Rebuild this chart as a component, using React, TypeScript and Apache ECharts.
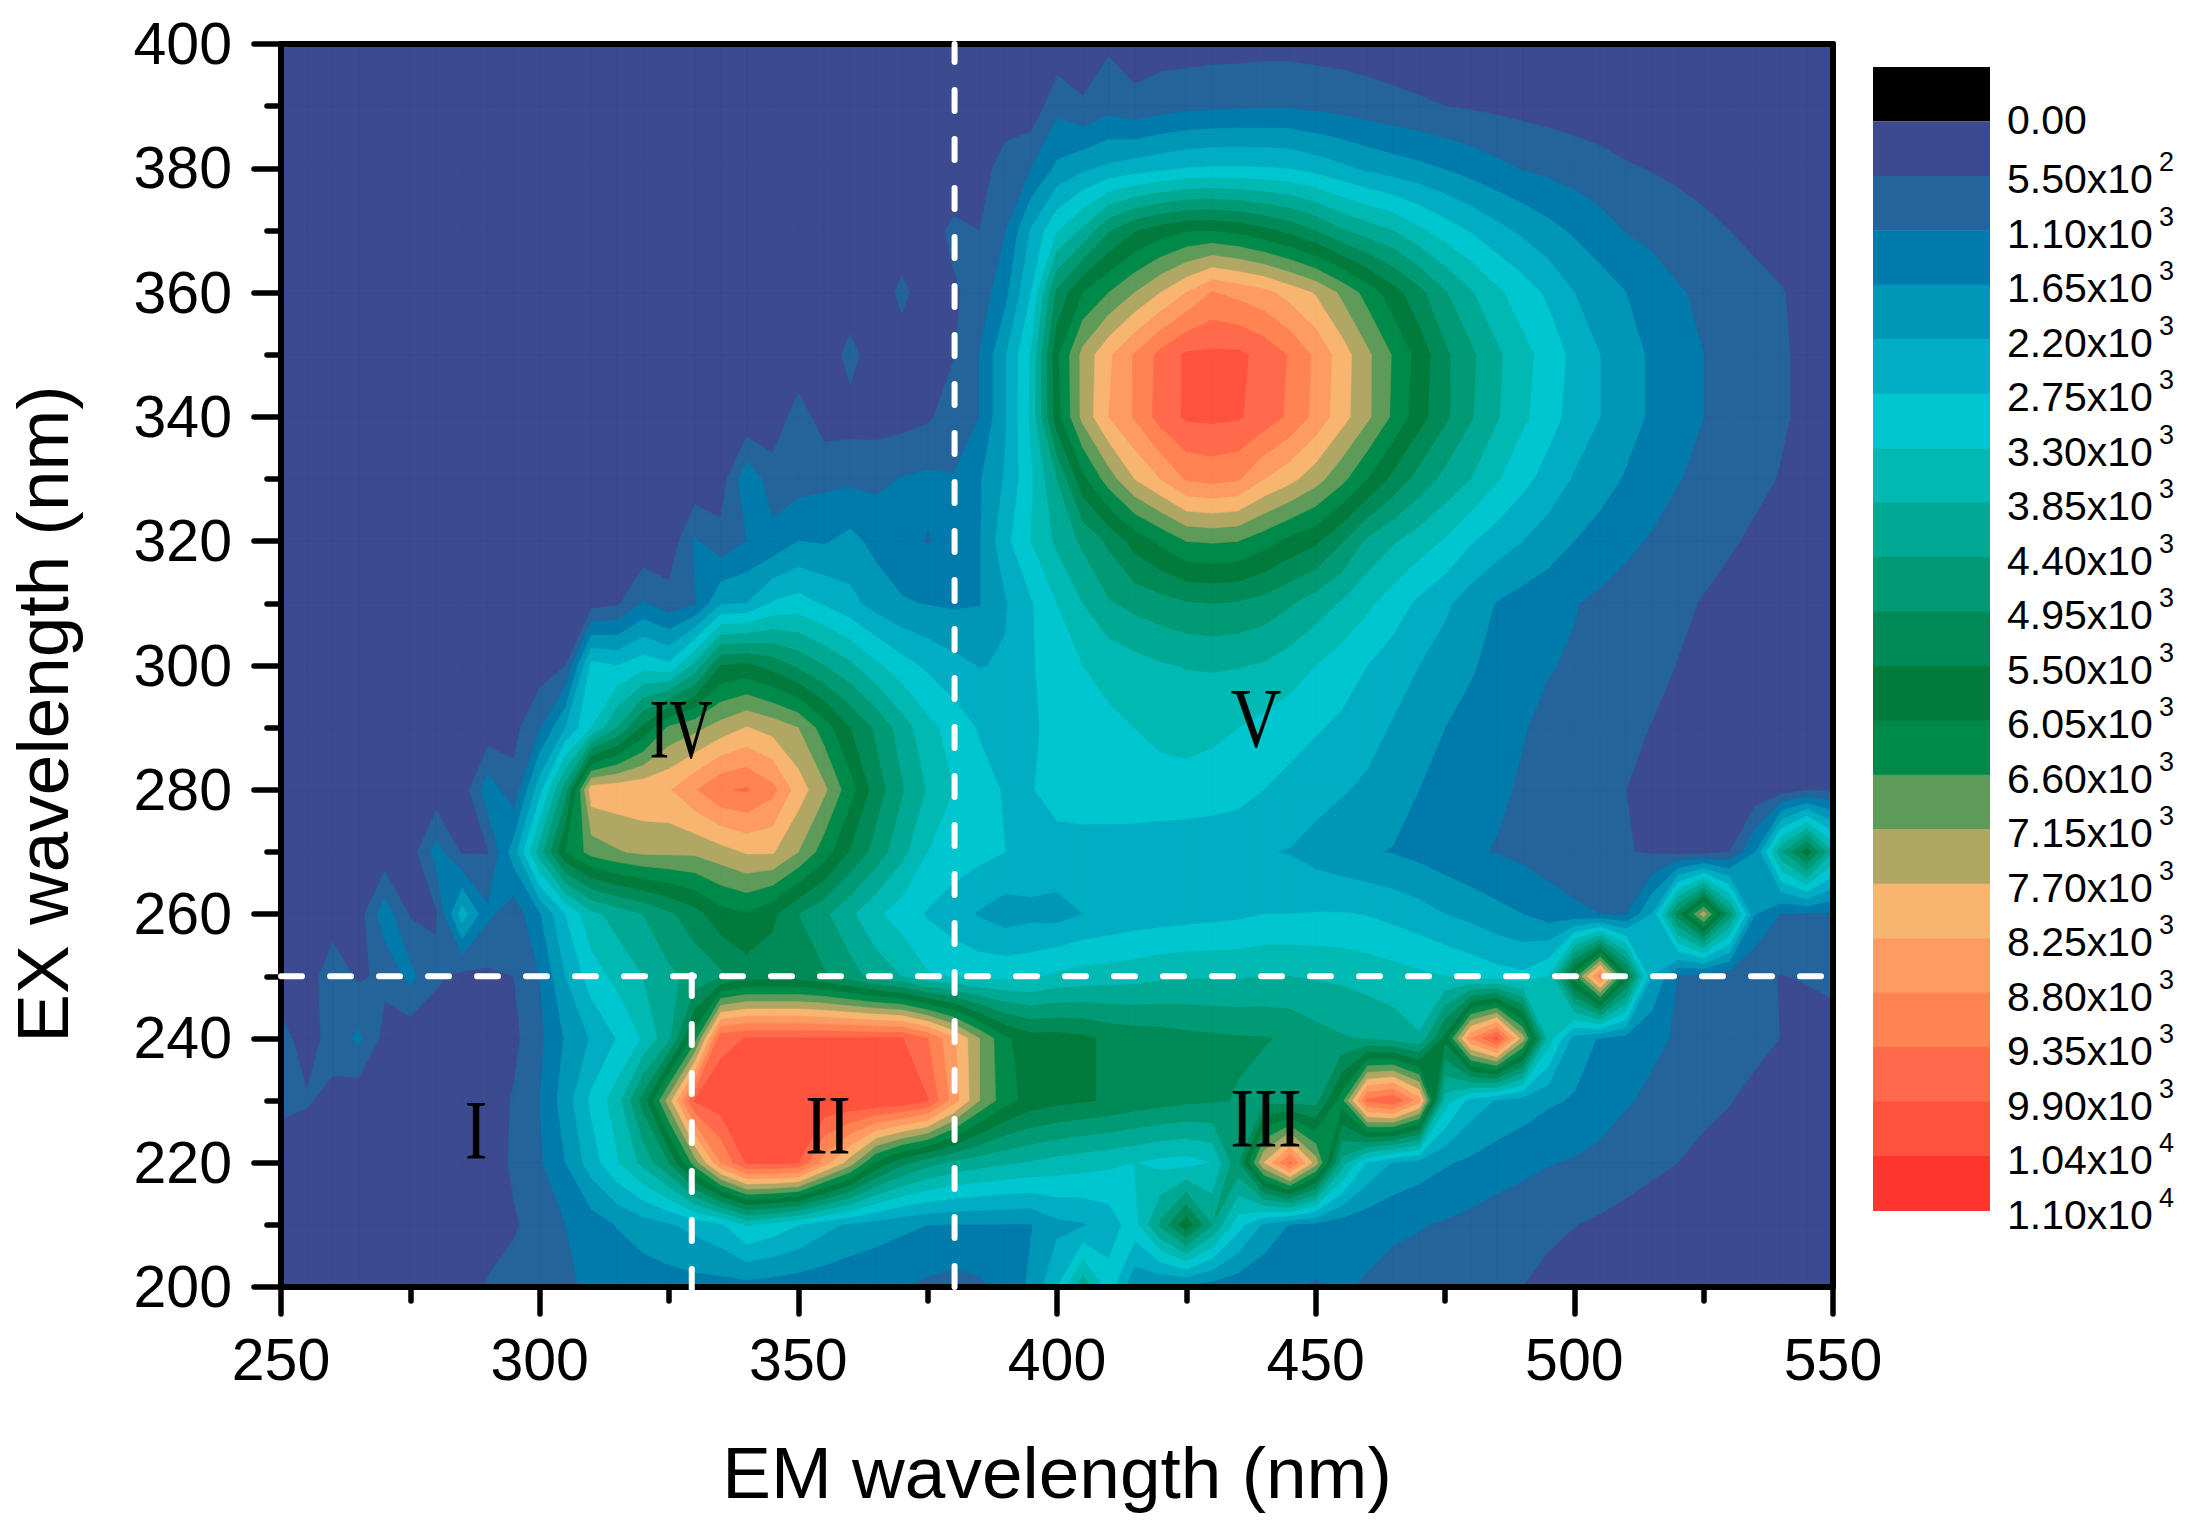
import React, { useEffect, useRef } from "react";
import * as echarts from "echarts";

const EM = [250,255,260,265,270,275,280,285,290,295,300,305,310,315,320,325,330,335,340,345,350,355,360,365,370,375,380,385,390,395,400,405,410,415,420,425,430,435,440,445,450,455,460,465,470,475,480,485,490,495,500,505,510,515,520,525,530,535,540,545,550];
const EX = [200,210,220,230,240,250,260,270,280,290,300,310,320,330,340,350,360,370,380,390,400];

// Intensity, in contour steps of 550 (one column per 5 nm of EM).
const ex200 = [.3,.3,.3,.3,.3,.3,.3,.4,1.1,1.35, 1.6,1.85,2.15,2.3,2.4,2.5,2.6,2.6,2.6,2.5, 2.4,2.3,2.2,2.1,2.05,1.8,1.6,1.8,2.3,3.2, 5.0,7.7,5.5,3.2,2.9,2.7,2.5,2.3,2.1,2.1, 1.9,2.1,1.9,1.7,1.6,1.5,1.4,1.2,1.0,.8, .6,.5,.4,.4,.3,.3,.3,.3,.3,.3,.3];
const ex210 = [.3,.3,.3,.3,.3,.3,.3,.4,.55,.9, 1.35,2.0,2.5,3.05,3.5,3.9,4.3,4.8,6.1,5.6, 5.0,4.3,3.8,3.5,3.2,3.0,2.95,2.95,2.95,2.95, 3.7,3.9,4.4,5.6,8.2,10.7,8.0,5.4,3.8,2.95, 2.7,2.4,2.3,2.15,2.05,1.9,1.7,1.5,1.3,1.15, 1.02,.85,.7,.5,.4,.3,.3,.3,.3,.3,.3];
const ex220 = [.3,.3,.3,.3,.3,.3,.3,.3,.5,1.15, 1.85,3.0,4.5,5.9,7.3,9.0,12.5,16,18.1,18.2, 18.0,15.5,13.5,10.8,9.3,8.4,7.8,7.4,7.1,6.9, 6.6,6.4,6.2,6.0,5.7,5.6,6.0,8.8,14.0,17.2, 13.5,7.6,4.9,3.9,3.5,3.1,2.8,2.5,2.3,2.05, 1.9,1.7,1.4,1.2,1.0,.7,.5,.4,.3,.3,.3];
const ex230 = [1.3,1.1,.7,.3,.3,.3,.3,.3,.4,1.1, 2.0,3.5,5.2,6.5,9.4,13.5,18.1,18.6,18.9,18.9, 18.9,18.9,18.9,18.9,18.7,18.05,15.5,13,11.4,10.6, 10.3,10.1,9.9,9.6,9.4,9.2,9.1,8.95,8.7,8.5, 8.6,11.5,17.2,17.9,15.5,6.5,4.6,3.9,3.5,3.15, 2.9,2.5,2.1,1.8,1.5,1.3,1.05,.7,.4,.3,.3];
const ex240 = [1.4,.5,1.45,2.2,.7,.3,.3,.3,.3,.75, 1.75,3.1,4.1,5.05,6.1,7.7,11.5,17.7,18.05,18.06, 18.05,18.05,18.05,18.05,18.05,17.0,15.2,13,11.2,10.4, 10.4,10.2,9.8,9.6,9.5,9.3,9.2,9.1,9.05,8.9, 8.4,8.1,7.9,7.6,7.1,10.3,16.0,18.3,13.5,6.5, 3.6,2.9,2.6,2.2,1.9,1.7,1.5,1.3,.98,.7,.5];
const ex250 = [.3,.5,1.6,.85,1.2,2.3,1.2,.7,.8,1.0, 2.0,4.0,5.5,6.3,7.0,7.8,8.3,8.8,9.5,9.5, 9.5,9.1,8.4,7.6,7.0,6.1,5.9,5.7,5.7,5.8, 6.2,6.4,6.5,6.6,6.8,6.9,6.9,6.9,7.0,7.0, 6.9,6.8,6.6,6.4,6.2,6.0,5.7,5.4,5.2,6.0, 11.5,16.5,10.5,4.0,1.95,1.5,1.3,1.1,.98,1.05,1.3];
const ex260 = [.3,.3,.5,.5,2.6,.9,.9,4.5,2.2,1.4, 2.9,5,6.7,7.4,8.0,8.8,9.6,10.6,10.9,10.2, 9.0,8.2,7.2,6.2,5.5,4.9,4.4,3.9,3.5,3.7, 3.6,4.0,4.2,4.4,4.5,4.6,4.7,4.8,5.0,5.0, 5.05,5.05,4.95,4.7,4.4,4.0,3.7,3.3,3.0,2.5, 2.2,2.0,1.95,4.0,9.5,13.5,8.5,3.0,1.95,1.85,1.9];
const ex270 = [.3,.3,.3,.3,.3,.5,2.4,.9,.95,3.5, 7.5,11,12.4,12.9,13.2,13.2,13.2,13.6,14.1,14.1, 13,11.5,9.9,8.6,7.3,6.0,5.6,5.3,5.0,4.8, 4.7,4.6,4.5,4.4,4.3,4.2,4.15,4.1,4.05,3.95, 3.6,3.3,3.1,2.95,2.7,2.4,2.1,1.95,1.75,1.55, 1.35,1.15,1.05,.9,.7,.6,1.0,3.0,7.8,10.6,7.0];
const ex280 = [.3,.3,.3,.3,.3,.3,.3,.4,2.6,1.3, 4.6,8.5,14.6,14.7,14.8,14.9,15.9,16.9,17.1,16.3, 14.5,13.2,11.4,9.5,8.1,6.9,6.0,5.4,4.9,4.95, 5.3,5.5,5.6,5.7,5.7,5.7,5.6,5.4,5.0,4.7, 4.4,4.1,3.8,3.4,3.0,2.75,2.45,2.15,1.9,1.7, 1.5,1.25,1.0,.8,.5,.4,.3,.3,.5,.95,.9];
const ex290 = [.2,.2,.2,.2,.2,.2,.2,.2,.3,.7, 1.9,4.0,6.0,8.0,10.2,12.2,12.7,13.4,14.05,13.6, 13.0,11.5,10.0,8.8,7.5,6.3,5.6,4.9,4.7,4.8, 5.4,5.6,5.8,6.0,6.2,6.3,6.2,6.0,5.7,5.4, 5.1,4.8,4.4,3.9,3.4,3.0,2.7,2.35,2.05,1.8, 1.55,1.35,1.15,.98,.7,.5,.3,.3,.3,.3,.3];
const ex300 = [.2,.2,.2,.2,.2,.2,.2,.2,.2,.2, .5,1.0,5.3,5.0,5.6,5.2,7.3,10,10.2,9.6, 8.8,8.0,7.2,6.2,5.4,4.8,4.3,3.95,4.1,4.9, 5.5,6.0,6.3,6.6,6.9,7.05,7.1,7.05,6.9,6.5, 6.0,5.5,5.0,4.5,4.0,3.5,3.1,2.7,2.4,2.05, 1.9,1.6,1.4,1.2,.98,.7,.4,.3,.3,.3,.3];
const ex310 = [.2,.2,.2,.2,.2,.2,.2,.2,.2,.2, .2,.2,.6,.85,2.1,1.4,1.9,3.9,4.0,5.1, 5.4,4.9,4.3,3.6,3.1,2.95,2.85,2.95,3.9,4.9, 6.0,7.0,7.9,8.3,8.6,8.9,9.0,8.9,8.6,8.1, 7.5,6.9,6.2,5.5,4.8,4.2,3.5,2.95,2.6,2.35, 2.05,1.8,1.6,1.4,1.15,.95,.7,.5,.3,.3,.3];
const ex320 = [.2,.2,.2,.2,.2,.2,.2,.2,.2,.2, .2,.2,.2,.2,.2,.3,2.15,1.3,2.0,2.3, 3.0,2.9,3.3,2.7,2.3,1.95,2.3,2.9,4.7,6.0, 7.2,8.2,9.2,10.4,11.2,12.0,12.1,12.0,11.4,10.7, 10.2,9.1,7.8,7.1,6.5,5.9,5.1,4.5,4.0,3.5, 3.0,2.6,2.2,1.9,1.6,1.3,1.1,.85,.6,.4,.3];
const ex330 = [.2,.2,.2,.2,.2,.2,.2,.2,.2,.2, .2,.2,.2,.2,.2,.2,.2,.5,2.7,1.5, 1.55,1.75,1.8,1.75,2.05,2.2,2.05,2.9,4.1,5.8, 8.0,10.7,12.5,14.0,15,16.1,16.3,16.1,15.0,14.3, 13.4,12.3,11,9.7,8.6,7.7,7.0,6.1,5.3,4.6, 3.9,3.4,2.9,2.5,2.05,1.75,1.5,1.2,.95,.7,.5];
const ex340 = [.2,.2,.2,.2,.2,.2,.2,.2,.2,.2, .2,.2,.2,.2,.2,.2,.2,.2,.2,.3, 1.5,.5,.55,.55,.6,.85,1.5,2.0,3.9,6.2, 10.6,13.3,15,16.1,17.4,18.15,18.2,18.1,17.6,16.8, 15.7,14.4,13.2,11.8,10.4,9.2,8.1,7.1,6.2,5.4, 4.6,4.0,3.4,2.85,2.4,2.0,1.7,1.4,1.1,.8,.6];
const ex350 = [.2,.2,.2,.2,.2,.2,.2,.2,.2,.2, .2,.2,.2,.2,.2,.2,.2,.2,.2,.2, .2,.2,1.4,.3,.4,.6,.95,2.0,3.9,6.1, 10.8,13.3,14.8,16.1,17.3,18.15,18.2,18.2,17.7,16.9, 15.8,14.5,13.2,11.9,10.6,9.2,8.2,7.2,6.3,5.6, 4.7,4.0,3.4,2.85,2.45,2.0,1.7,1.4,1.1,.8,.6];
const ex360 = [.2,.2,.2,.2,.2,.2,.2,.2,.2,.2, .2,.2,.2,.2,.2,.2,.2,.2,.2,.2, .2,.2,.2,.2,1.3,.3,.85,1.4,2.7,5.0, 9.2,11,12,13,14,15,16.05,15.7,15.3,14.6, 13.9,12.8,11.6,10.4,9.3,8.1,7.1,6.2,5.5,4.8, 4.0,3.5,3.0,2.6,2.1,1.8,1.5,1.25,1.05,.75,.6];
const ex370 = [.2,.2,.2,.2,.2,.2,.2,.2,.2,.2, .2,.2,.2,.2,.2,.2,.2,.2,.2,.2, .2,.2,.2,.2,.2,.5,1.25,1.0,1.95,4.1, 5.9,7.2,8.9,9.9,10.5,10.9,10.95,10.7,10.25,9.7, 9.0,8.1,7.5,7.0,6.2,5.5,4.9,4.3,3.8,3.3, 2.85,2.4,1.95,1.7,1.45,1.25,1.0,.8,.6,.5,.4];
const ex380 = [.2,.2,.2,.2,.2,.2,.2,.2,.2,.2, .2,.2,.2,.2,.2,.2,.2,.2,.2,.2, .2,.2,.2,.2,.2,.2,.2,.7,1.3,2.0, 3.2,3.8,4.2,4.5,4.75,5.0,5.1,5.1,5.05,4.95, 4.6,4.2,3.8,3.5,3.25,2.95,2.6,2.25,1.95,1.75, 1.55,1.35,1.1,.95,.8,.6,.5,.4,.3,.3,.3];
const ex390 = [.2,.2,.2,.2,.2,.2,.2,.2,.2,.2, .2,.2,.2,.2,.2,.2,.2,.2,.2,.2, .2,.2,.2,.2,.2,.2,.2,.2,.6,.3, 1.7,1.1,1.6,1.25,1.55,1.7,1.8,1.85,1.9,1.9, 1.75,1.65,1.45,1.3,1.15,1.0,.9,.8,.7,.6, .5,.4,.3,.3,.3,.3,.3,.3,.3,.3,.3];
const ex400 = [.2,.2,.2,.2,.2,.2,.2,.2,.2,.2, .2,.2,.2,.2,.2,.2,.2,.2,.2,.2, .2,.2,.2,.2,.2,.2,.2,.2,.2,.2, .3,.5,.85,.55,.55,.55,.6,.6,.65,.65, .6,.55,.5,.4,.3,.3,.3,.3,.3,.3, .3,.3,.3,.3,.3,.3,.3,.3,.3,.3,.3];
const GRID_VALUES = [ex200,ex210,ex220,ex230,ex240,ex250,ex260,ex270,ex280,ex290,ex300,ex310,ex320,ex330,ex340,ex350,ex360,ex370,ex380,ex390,ex400];

const BAND_COLORS = ["#3c4a8f","#25639b","#007bab","#0097b7","#00aec3","#00c6d0","#00b9b3","#00a994","#009a74","#008a57","#007b3c","#008a4a","#5e9b59","#b1a764","#f7b56f","#fe9b62","#ff8353","#ff6a4b","#ff533d","#ff352f"];
const LEGEND_MANTISSA = ["0.00","5.50","1.10","1.65","2.20","2.75","3.30","3.85","4.40","4.95","5.50","6.05","6.60","7.15","7.70","8.25","8.80","9.35","9.90","1.04","1.10"];
const LEGEND_EXPONENT = ["","2","3","3","3","3","3","3","3","3","3","3","3","3","3","3","3","3","3","4","4"];

const H_DASH = [[250,250],[550,250]];
const V_DASH_380 = [[380.2,200],[380.2,400]];
const V_DASH_330 = [[329.4,250.2],[329.4,198]];

const NUMERALS = [
  { text: "I", x: 476, y: 1130, sx: 0.8 },
  { text: "II", x: 828, y: 1125, sx: 0.8 },
  { text: "III", x: 1266, y: 1118, sx: 0.84 },
  { text: "IV", x: 681, y: 730, sx: 0.7 },
  { text: "V", x: 1256, y: 718, sx: 0.83 },
];

const SANS = "Liberation Sans";

function clipCell(pts: number[][], level: number) {
  const out: number[][] = [];
  for (let i = 0; i < pts.length; i++) {
    const a = pts[i];
    const b = pts[(i + 1) % pts.length];
    const ia = a[2] >= level;
    const ib = b[2] >= level;
    if (ia) out.push(a);
    if (ia !== ib) {
      const t = (level - a[2]) / (b[2] - a[2]);
      out.push([a[0] + t * (b[0] - a[0]), a[1] + t * (b[1] - a[1]), level]);
    }
  }
  return out;
}

function bandPath(level: number, api: any) {
  const parts: string[] = [];
  for (let r = 0; r < EX.length - 1; r++) {
    for (let c = 0; c < EM.length - 1; c++) {
      const cell = [
        [EM[c], EX[r], GRID_VALUES[r][c]],
        [EM[c + 1], EX[r], GRID_VALUES[r][c + 1]],
        [EM[c + 1], EX[r + 1], GRID_VALUES[r + 1][c + 1]],
        [EM[c], EX[r + 1], GRID_VALUES[r + 1][c]],
      ];
      const poly = clipCell(cell, level);
      if (poly.length < 3) continue;
      const d = poly.map((p, i) => {
        const xy = api.coord([p[0], p[1]]);
        return (i ? "L" : "M") + xy[0].toFixed(1) + " " + xy[1].toFixed(1);
      }).join("");
      parts.push(d + "Z");
    }
  }
  return parts.join("");
}

function legendGraphics() {
  const out: any[] = [];
  const blockH = 54.45;
  out.push({ type: "rect", shape: { x: 1873, y: 67, width: 117, height: blockH }, style: { fill: "#000000" } });
  BAND_COLORS.forEach((color, i) => {
    out.push({ type: "rect", shape: { x: 1873, y: 67 + blockH * (i + 1), width: 117, height: blockH + 0.5 }, style: { fill: color } });
  });
  LEGEND_MANTISSA.forEach((m, i) => {
    const y = i === 0 ? 120 : 179 + (i - 1) * 54.5;
    const exp = LEGEND_EXPONENT[i];
    out.push({ type: "text", x: 2007, y, style: { text: exp ? m + "x10" : m, font: `41px "${SANS}"`, fill: "#000", textAlign: "left", textVerticalAlign: "middle" } });
    if (exp) out.push({ type: "text", x: 2159, y: y - 17, style: { text: exp, font: `27px "${SANS}"`, fill: "#000", textAlign: "left", textVerticalAlign: "middle" } });
  });
  return out;
}

function textGraphics() {
  const items: any[] = NUMERALS.map((n) => ({
    type: "text", x: n.x, y: n.y, scaleX: n.sx, z: 100,
    style: { text: n.text, font: `85px "Liberation Serif"`, fill: "#000", textAlign: "center", textVerticalAlign: "middle" },
  }));
  items.push({
    type: "text", x: 42, y: 714, rotation: Math.PI / 2, z: 100,
    style: { text: "EX wavelength (nm)", font: `73px "${SANS}"`, fill: "#000", textAlign: "center", textVerticalAlign: "middle" },
  });
  return items;
}

const tickStyle = { color: "#000", width: 5.5, cap: "round" };
const frameLine = { color: "#000", width: 6 };

export default function App() {
  const ref = useRef<HTMLDivElement>(null);
  useEffect(() => {
    document.body.style.margin = "0";
    const chart = echarts.init(ref.current!, undefined, { renderer: "svg" });
    const dashLine = (data: number[][]) => ({
      type: "line", data, symbol: "none", z: 12, clip: false, silent: true,
      lineStyle: { color: "#ffffff", width: 6, type: [21, 28], cap: "round" },
    });
    chart.setOption({
      animation: false,
      backgroundColor: "#ffffff",
      grid: { left: 281, right: 357, top: 44, bottom: 235 },
      xAxis: [
        {
          type: "value", min: 250, max: 550, interval: 50, z: 10, position: "bottom",
          name: "EM wavelength (nm)", nameLocation: "middle", nameGap: 149,
          nameTextStyle: { fontFamily: SANS, fontSize: 73, color: "#000" },
          axisLine: { show: true, lineStyle: frameLine },
          axisTick: { show: true, inside: false, length: 27, lineStyle: tickStyle },
          minorTick: { show: true, splitNumber: 2, length: 14, lineStyle: tickStyle },
          splitLine: { show: false }, minorSplitLine: { show: false },
          axisLabel: { fontFamily: SANS, fontSize: 59, color: "#000", margin: 43 },
        },
        {
          type: "value", min: 250, max: 550, interval: 50, z: 10, position: "top",
          axisLine: { show: true, lineStyle: frameLine },
          axisTick: { show: false }, axisLabel: { show: false }, splitLine: { show: false },
        },
      ],
      yAxis: [
        {
          type: "value", min: 200, max: 400, interval: 20, z: 10, position: "left",
          axisLine: { show: true, lineStyle: frameLine },
          axisTick: { show: true, inside: false, length: 27, lineStyle: tickStyle },
          minorTick: { show: true, splitNumber: 2, length: 14, lineStyle: tickStyle },
          splitLine: { show: false }, minorSplitLine: { show: false },
          axisLabel: { fontFamily: SANS, fontSize: 59, color: "#000", margin: 49, padding: [0, 0, 6, 0] },
        },
        {
          type: "value", min: 200, max: 400, interval: 20, z: 10, position: "right",
          axisLine: { show: true, lineStyle: frameLine },
          axisTick: { show: false }, axisLabel: { show: false }, splitLine: { show: false },
        },
      ],
      series: [
        {
          type: "custom",
          coordinateSystem: "cartesian2d",
          xAxisIndex: 0,
          yAxisIndex: 0,
          silent: true,
          clip: true,
          z: 2,
          encode: { x: 0, y: 1 },
          data: BAND_COLORS.map((_, i) => [EM[0], EX[0], i]),
          renderItem: (_params: any, api: any) => {
            const level = api.value(2);
            const d = bandPath(level, api);
            if (!d) return null;
            const color = BAND_COLORS[level];
            return { type: "path", shape: { pathData: d }, style: { fill: color, stroke: color, lineWidth: 0.6 } };
          },
        },
        dashLine(H_DASH),
        dashLine(V_DASH_380),
        dashLine(V_DASH_330),
      ],
      graphic: [...legendGraphics(), ...textGraphics()],
    });
    return () => chart.dispose();
  }, []);
  return <div ref={ref} style={{ position: "fixed", left: 0, top: 0, width: 2190, height: 1522 }} />;
}
